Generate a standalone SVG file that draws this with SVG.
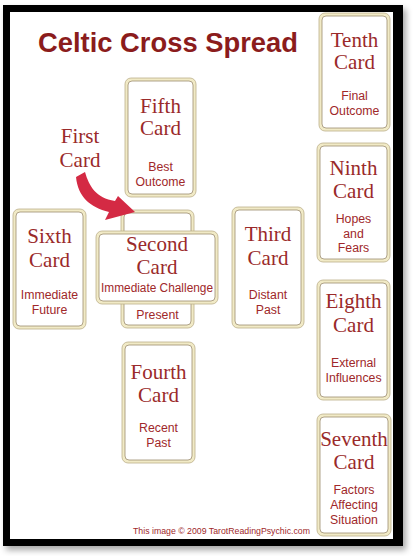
<svg xmlns="http://www.w3.org/2000/svg" width="414" height="556" viewBox="0 0 414 556">
<style>
.card-o{fill:#f1eac6;stroke:#bcb08c;stroke-width:0.8}
.card-i{fill:#ffffff;stroke:#9c8d6e;stroke-width:0.8}
.ct{font-family:"Liberation Serif","Times New Roman",serif;font-size:21px;fill:#9a2a2a;text-anchor:middle}
.cs{font-family:"Liberation Sans",Arial,sans-serif;font-size:12.3px;fill:#a0282a;text-anchor:middle}
.title{font-family:"Liberation Sans",Arial,sans-serif;font-size:27.5px;font-weight:bold;fill:#8b1c1c}
.copy{font-family:"Liberation Sans",Arial,sans-serif;font-size:9.5px;fill:#a0282a}
</style>
<defs>
<filter id="sh" x="-5%" y="-5%" width="115%" height="115%">
<feDropShadow dx="3" dy="4" stdDeviation="3" flood-color="#000" flood-opacity="0.35"/>
</filter>
</defs>
<rect x="0" y="0" width="414" height="556" fill="#ffffff"/>
<g id="frame">
<rect x="3" y="5" width="400" height="541" fill="#000000" filter="url(#sh)"/>
<rect x="10" y="12" width="383" height="527" fill="#ffffff"/>
</g>
<text class="title" x="38" y="52" textLength="260" lengthAdjust="spacingAndGlyphs">Celtic Cross Spread</text>

<g id="fifth">
<rect class="card-o" x="125" y="78" width="71" height="119" rx="6"/>
<rect class="card-i" x="128" y="81" width="65" height="113" rx="4"/>
<text class="ct" x="160.5" y="113">Fifth</text>
<text class="ct" x="160.5" y="135">Card</text>
<text class="cs" x="160.5" y="171">Best</text>
<text class="cs" x="160.5" y="186">Outcome</text>
</g>

<g id="tenth">
<rect class="card-o" x="319" y="13" width="71" height="118" rx="6"/>
<rect class="card-i" x="322" y="16" width="65" height="112" rx="4"/>
<text class="ct" x="354.5" y="47">Tenth</text>
<text class="ct" x="354.5" y="69">Card</text>
<text class="cs" x="354.5" y="100">Final</text>
<text class="cs" x="354.5" y="115">Outcome</text>
</g>

<g id="ninth">
<rect class="card-o" x="317" y="143" width="73" height="119" rx="6"/>
<rect class="card-i" x="320" y="146" width="67" height="113" rx="4"/>
<text class="ct" x="353.5" y="175">Ninth</text>
<text class="ct" x="353.5" y="198">Card</text>
<text class="cs" x="353.5" y="223">Hopes</text>
<text class="cs" x="353.5" y="238">and</text>
<text class="cs" x="353.5" y="252">Fears</text>
</g>

<g id="third">
<rect class="card-o" x="232" y="207" width="72" height="121" rx="6"/>
<rect class="card-i" x="235" y="210" width="66" height="115" rx="4"/>
<text class="ct" x="268" y="241">Third</text>
<text class="ct" x="268" y="265">Card</text>
<text class="cs" x="268" y="299">Distant</text>
<text class="cs" x="268" y="314">Past</text>
</g>

<g id="eighth">
<rect class="card-o" x="317" y="280" width="73" height="120" rx="6"/>
<rect class="card-i" x="320" y="283" width="67" height="114" rx="4"/>
<text class="ct" x="353.5" y="308">Eighth</text>
<text class="ct" x="353.5" y="332">Card</text>
<text class="cs" x="353.5" y="367">External</text>
<text class="cs" x="353.5" y="382">Influences</text>
</g>

<g id="seventh">
<rect class="card-o" x="317" y="414" width="74" height="122" rx="6"/>
<rect class="card-i" x="320" y="417" width="68" height="116" rx="4"/>
<text class="ct" x="354" y="446">Seventh</text>
<text class="ct" x="354" y="469">Card</text>
<text class="cs" x="354" y="494">Factors</text>
<text class="cs" x="354" y="509">Affecting</text>
<text class="cs" x="354" y="524">Situation</text>
</g>

<g id="fourth">
<rect class="card-o" x="122" y="342" width="73" height="121" rx="6"/>
<rect class="card-i" x="125" y="345" width="67" height="115" rx="4"/>
<text class="ct" x="158.5" y="379">Fourth</text>
<text class="ct" x="158.5" y="402">Card</text>
<text class="cs" x="158.5" y="432">Recent</text>
<text class="cs" x="158.5" y="447">Past</text>
</g>

<g id="sixth">
<rect class="card-o" x="13" y="209" width="73" height="120" rx="6"/>
<rect class="card-i" x="16" y="212" width="67" height="114" rx="4"/>
<text class="ct" x="49.5" y="243">Sixth</text>
<text class="ct" x="49.5" y="267">Card</text>
<text class="cs" x="49.5" y="299">Immediate</text>
<text class="cs" x="49.5" y="314">Future</text>
</g>

<g id="first">
<rect class="card-o" x="121" y="210" width="73" height="118" rx="6"/>
<rect class="card-i" x="124" y="213" width="67" height="112" rx="4"/>
<text class="cs" x="157.5" y="319">Present</text>
</g>

<g id="second">
<rect class="card-o" x="96" y="231" width="122" height="73" rx="6"/>
<rect class="card-i" x="99" y="234" width="116" height="67" rx="4"/>
<text class="ct" x="157" y="251">Second</text>
<text class="ct" x="157" y="274">Card</text>
<text class="cs" x="157" y="292" textLength="112" lengthAdjust="spacingAndGlyphs">Immediate Challenge</text>
</g>

<g id="first-label">
<text class="ct" x="80" y="143">First</text>
<text class="ct" x="80" y="167">Card</text>
</g>

<g id="connectors">
<path d="M76,177 L85,172 C89,186 96,198 115,201 L118,196 L135,212 L105,220 L109,212 C90,207 78,197 76,177 Z" fill="#d42a44"/>
</g>

<text class="copy" x="133" y="534" textLength="177" lengthAdjust="spacingAndGlyphs">This image © 2009 TarotReadingPsychic.com</text>
</svg>
